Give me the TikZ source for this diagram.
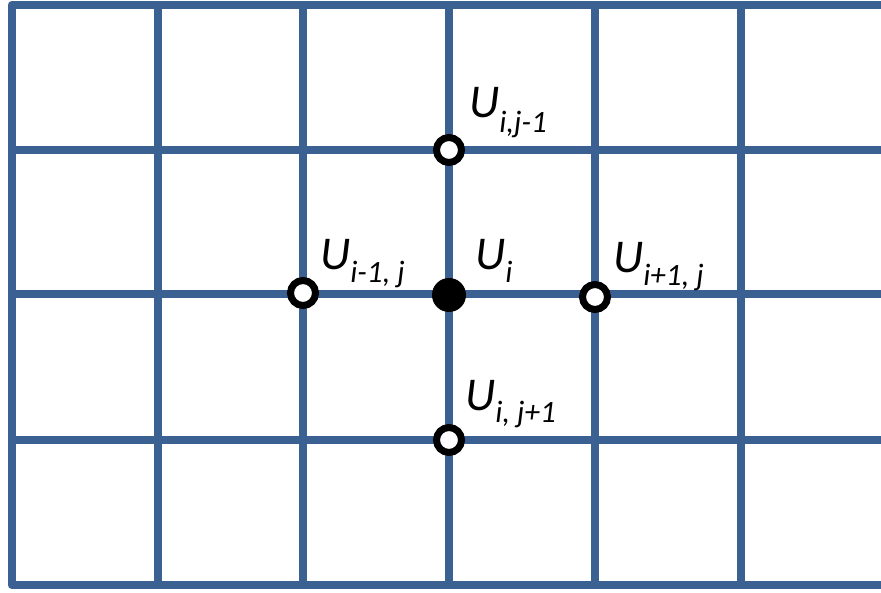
\documentclass[tikz,border=0pt]{standalone}
\usepackage{fontspec}
\setmainfont{Carlito}
\definecolor{gridblue}{RGB}{59,96,146}
\tikzset{
  gridline/.style={draw=gridblue, line width=8pt, line join=round, line cap=butt},
  opennode/.style={circle, draw=black, fill=white, line width=7pt, minimum size=25pt, inner sep=0pt},
  fullnode/.style={circle, fill=black, minimum size=34pt, inner sep=0pt},
  ulabel/.style={anchor=base west, inner sep=0pt, font=\itshape},
}
\newcommand{\ulab}[2]{{\fontsize{47}{47}\selectfont U}\raisebox{-#2pt}{\fontsize{31}{31}\selectfont #1}}
\begin{document}
\begin{tikzpicture}[x=1pt,y=-1pt]
\useasboundingbox (0,0) rectangle (881,593);
% outer frame (open on the right)
\draw[gridline] (881,5) -- (11.5,5) -- (11.5,585) -- (881,585);
% inner vertical lines
\foreach \x in {157.5,303,449,595,740.5}
  \draw[gridline] (\x,5) -- (\x,585);
% inner horizontal lines
\foreach \y in {150,294,440}
  \draw[gridline] (11.5,\y) -- (881,\y);
% grid points
\node[fullnode] (c) at (449,295) {};
\node[opennode] (n) at (449,150) {};
\node[opennode] (s) at (449,440) {};
\node[opennode] (w) at (303,293) {};
\node[opennode] (e) at (595,297) {};
% labels
\node[ulabel] (ln) at (469,118) {\ulab{i,j-1}{15}};
\node[ulabel] (lw) at (320,270) {\ulab{i-1, j}{13}};
\node[ulabel] (lc) at (475,270) {\ulab{i}{13}};
\node[ulabel] (le) at (613,273) {\ulab{i+1, j}{13}};
\node[ulabel] (ls) at (465,410) {\ulab{i, j+1}{13}};
\end{tikzpicture}
\end{document}
